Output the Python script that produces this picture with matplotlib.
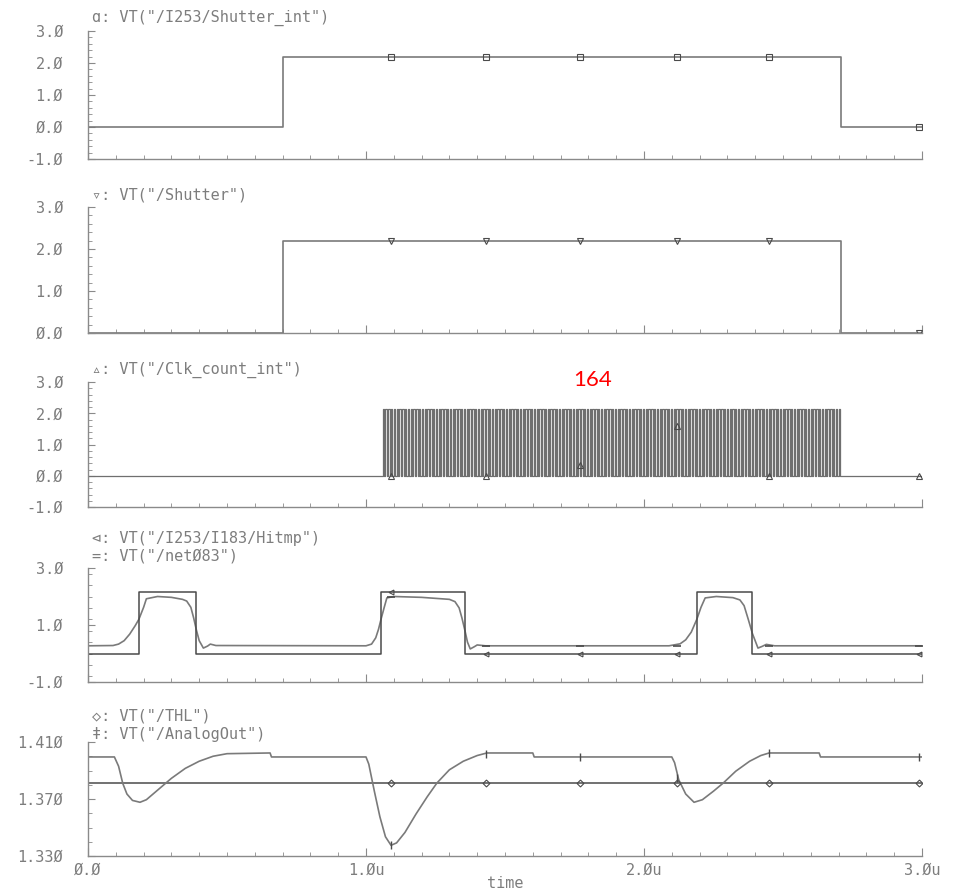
import numpy as np
import matplotlib
matplotlib.use("Agg")
import matplotlib.pyplot as plt
from matplotlib.ticker import MultipleLocator, FixedLocator

# ---- data (time in us) ----
shutter_t = [0.0, 0.70, 2.71, 3.0]
shutter_v = [0.0, 2.18, 0.0, 0.0]

marker_t = [1.09, 1.43, 1.77, 2.12, 2.45, 2.99]
shutter_mk = [2.18, 2.18, 2.18, 2.18, 2.18, 0.0]

clk_start = 1.06
clk_stop = 2.71
clk_count = 164
clk_high = 2.15
clk_mk = [0.0, 0.0, 0.36, 1.6, 0.0, 0.0]

net083_t = [0.0, 0.183, 0.39, 1.054, 1.356, 2.19, 2.39, 3.0]
net083_v = [0.0, 2.17, 0.0, 2.17, 0.0, 2.17, 0.0, 0.0]
net083_mk = [2.17, 0.0, 0.0, 0.0, 0.0, 0.0]

hitmp_t = [0.0, 0.09, 0.11, 0.13, 0.15, 0.17, 0.183, 0.20, 0.21, 0.25, 0.30, 0.34,
           0.355, 0.37, 0.38, 0.39, 0.40, 0.415, 0.43, 0.44, 0.46, 1.00, 1.02,
           1.035, 1.045, 1.054, 1.065, 1.075, 1.10, 1.20, 1.30, 1.32, 1.335,
           1.345, 1.356, 1.365, 1.375, 1.39, 1.40, 1.43, 2.09, 2.13, 2.15, 2.17,
           2.19, 2.205, 2.22, 2.26, 2.32, 2.345, 2.36, 2.375, 2.39, 2.41, 2.425,
           2.44, 2.47, 3.0]
hitmp_v = [0.27, 0.28, 0.33, 0.45, 0.68, 0.98, 1.20, 1.62, 1.92, 2.00, 1.97, 1.90,
           1.84, 1.62, 1.25, 0.82, 0.45, 0.19, 0.26, 0.33, 0.28, 0.27, 0.33,
           0.55, 0.85, 1.20, 1.60, 1.95, 2.00, 1.97, 1.90, 1.82, 1.60,
           1.25, 0.80, 0.40, 0.16, 0.24, 0.30, 0.27, 0.27, 0.34, 0.48, 0.75,
           1.20, 1.62, 1.95, 2.00, 1.96, 1.88, 1.68, 1.20, 0.70, 0.19, 0.25,
           0.32, 0.27, 0.27]
hitmp_mk = [1.98, 0.27, 0.27, 0.27, 0.27, 0.27]

thl_v = 1.3812

aout_t = [0.0, 0.095, 0.11, 0.125, 0.14, 0.16, 0.187, 0.21, 0.24, 0.27, 0.30, 0.35,
          0.40, 0.45, 0.50, 0.655, 0.66, 1.00, 1.01, 1.03, 1.05, 1.07, 1.09, 1.11,
          1.14, 1.18, 1.22, 1.255, 1.30, 1.35, 1.40, 1.435, 1.60, 1.605, 2.10,
          2.11, 2.125, 2.15, 2.18, 2.21, 2.25, 2.285, 2.33, 2.38, 2.42, 2.45,
          2.63, 2.635, 3.0]
aout_v = [1.3995, 1.3995, 1.393, 1.381, 1.3735, 1.369, 1.3677, 1.3695, 1.3745,
          1.3795, 1.3845, 1.3915, 1.3965, 1.4, 1.4018, 1.4023, 1.3995, 1.3995,
          1.3945, 1.3755, 1.3575, 1.3435, 1.3375, 1.3392, 1.3465, 1.3595, 1.3715,
          1.3812, 1.3905, 1.3965, 1.4005, 1.4023, 1.4023, 1.3995, 1.3995, 1.3955,
          1.3835, 1.3735, 1.3677, 1.3695, 1.3755, 1.3812, 1.3895, 1.3965, 1.4005,
          1.4023, 1.4023, 1.3995, 1.3995]
aout_mk = [1.3375, 1.4015, 1.3995, 1.3845, 1.4023, 1.3995]

x_ticks = [0.0, 1.0, 2.0, 3.0]
x_ticklabels = ["Ø.Ø", "1.Øu", "2.Øu", "3.Øu"]

# clock edges from read count / start / stop
clk_period = (clk_stop - clk_start) / clk_count
clk_t = [0.0]
clk_v = [0.0]
for k in range(clk_count):
    t0 = clk_start + k * clk_period
    clk_t += [t0, t0 + clk_period / 2]
    clk_v += [clk_high, 0.0]
clk_t += [3.0]
clk_v += [0.0]

# ---- figure ----
W, H = 962, 893
plt.rcParams["font.family"] = ["DejaVu Sans Mono", "DejaVu Sans"]
fig = plt.figure(figsize=(W / 100, H / 100), dpi=100)
grey_txt = "#7d7d7d"
grey_ax = "#8a8a8a"
line_c = "#7a7a7a"
dark_c = "#4a4a4a"

left = 88 / W
width = (922 - 88) / W


def make_ax(top_px, bot_px):
    return fig.add_axes([left, 1 - bot_px / H, width, (bot_px - top_px) / H])


def style(ax, ylim, yticks, ylabels, yminor):
    ax.set_xlim(0, 3.0)
    ax.set_ylim(*ylim)
    for s in ["top", "right"]:
        ax.spines[s].set_visible(False)
    for s in ["left", "bottom"]:
        ax.spines[s].set_color(grey_ax)
        ax.spines[s].set_linewidth(1.0)
    ax.xaxis.set_major_locator(FixedLocator(x_ticks))
    ax.xaxis.set_minor_locator(MultipleLocator(0.1))
    ax.yaxis.set_major_locator(FixedLocator(yticks))
    ax.set_yticklabels(ylabels)
    ax.yaxis.set_minor_locator(MultipleLocator(yminor))
    ax.tick_params(axis="both", which="both", direction="in", colors=grey_ax,
                   labelcolor=grey_txt, labelsize=11)
    ax.tick_params(axis="y", which="major", length=5, pad=18)
    ax.tick_params(axis="y", which="minor", length=3)
    ax.tick_params(axis="x", which="major", length=6, pad=5)
    ax.tick_params(axis="x", which="minor", length=3)
    ax.set_xticklabels([])
    ax.set_facecolor("none")


def title(y_px, s):
    fig.text(92 / W, 1 - y_px / H, s, color=grey_txt, fontsize=11, va="center", ha="left")


volt_ticks = [-1, 0, 1, 2, 3]
volt_labels = ["-1.Ø", "Ø.Ø", "1.Ø", "2.Ø", "3.Ø"]

# panel 1
ax1 = make_ax(31, 159)
ax1.plot(shutter_t, shutter_v, drawstyle="steps-post", color=line_c, lw=1.2)
ax1.plot(marker_t, shutter_mk, ls="none", marker="s", ms=4, mfc="none", mec=dark_c, mew=0.8)
style(ax1, (-1.0, 3.0), volt_ticks, volt_labels, 0.2)
title(18, 'ɑ: VT("/I253/Shutter_int")')

# panel 2
ax2 = make_ax(207, 333)
ax2.plot(shutter_t, shutter_v, drawstyle="steps-post", color=line_c, lw=1.2)
ax2.plot(marker_t, shutter_mk, ls="none", marker="v", ms=4, mfc="none", mec=dark_c, mew=0.8)
style(ax2, (0.0, 3.0), [0, 1, 2, 3], ["Ø.Ø", "1.Ø", "2.Ø", "3.Ø"], 0.2)
title(195, '▿: VT("/Shutter")')

# panel 3
ax3 = make_ax(382, 507)
ax3.plot(clk_t, clk_v, drawstyle="steps-post", color="#6f6f6f", lw=0.9)
ax3.plot(marker_t, clk_mk, ls="none", marker="^", ms=4, mfc="none", mec=dark_c, mew=0.8)
style(ax3, (-1.0, 3.0), volt_ticks, volt_labels, 0.2)
title(370, '▵: VT("/Clk_count_int")')
ax3.text(1.815, 3.05, "164", color="red", fontsize=16, ha="center", va="center",
         family=["Lato", "DejaVu Sans"], clip_on=False)

# panel 4
ax4 = make_ax(568, 682)
ax4.plot(hitmp_t, hitmp_v, color=line_c, lw=1.2)
ax4.plot(net083_t, net083_v, drawstyle="steps-post", color=dark_c, lw=1.1)
ax4.plot(marker_t, hitmp_mk, ls="none", marker="_", ms=6, mec=dark_c, mew=1.2)
ax4.plot(marker_t, net083_mk, ls="none", marker="<", ms=3.5, mfc="none", mec=dark_c, mew=0.8)
style(ax4, (-1.0, 3.0), [-1, 1, 3], ["-1.Ø", "1.Ø", "3.Ø"], 0.4)
title(538, '⊲: VT("/I253/I183/Hitmp")')
title(556, '=: VT("/netØ83")')

# panel 5
ax5 = make_ax(742, 856)
ax5.axhline(thl_v, color=dark_c, lw=1.1)
ax5.plot(aout_t, aout_v, color=line_c, lw=1.2)
ax5.plot(marker_t, [thl_v] * len(marker_t), ls="none", marker="D", ms=3.5,
         mfc="none", mec=dark_c, mew=0.8)
ax5.plot(marker_t, aout_mk, ls="none", marker="|", ms=6, mec=dark_c, mew=1.0)
style(ax5, (1.33, 1.41), [1.33, 1.37, 1.41], ["1.33Ø", "1.37Ø", "1.41Ø"], 0.01)
ax5.set_xticklabels(x_ticklabels)
fig.text(505 / W, 1 - 884 / H, "time", color=grey_txt, fontsize=11, ha="center", va="center")
title(716, '◇: VT("/THL")')
title(734, 'ǂ: VT("/AnalogOut")')

fig.savefig("out.png", dpi=100, facecolor="white")
